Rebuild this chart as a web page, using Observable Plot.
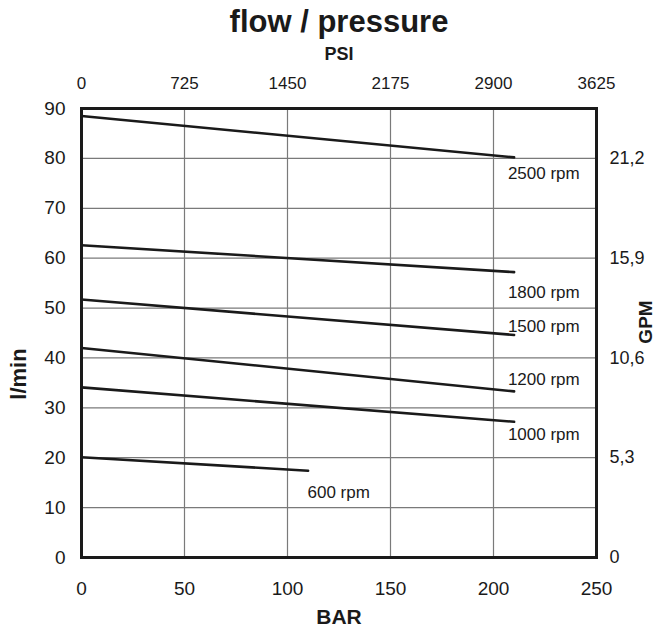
<!DOCTYPE html>
<html>
<head>
<meta charset="utf-8">
<script src="https://cdn.jsdelivr.net/npm/d3@7"></script>
<script src="https://cdn.jsdelivr.net/npm/@observablehq/plot@0.6"></script>
<style>
  html, body { margin: 0; padding: 0; background: #fff; }
  svg { font-family: "Liberation Sans", Arial, Helvetica, sans-serif; }
</style>
</head>
<body>
<div id="chart"></div>
<script>
// ---- data ----
const series = ["2500 rpm", "1800 rpm", "1500 rpm", "1200 rpm", "1000 rpm", "600 rpm"];
const barStart = [0, 0, 0, 0, 0, 0];
const barEnd = [210, 210, 210, 210, 210, 110];
const flowStart = [88.5, 62.6, 51.7, 42.0, 34.1, 20.1];
const flowEnd = [80.2, 57.2, 44.6, 33.3, 27.2, 17.4];
// label anchor positions (data units)
const labelBar = [207, 207, 207, 207, 207, 109.7];
const labelFlow = [76.9, 53.1, 46.3, 35.6, 24.7, 13.1];

const barTicks = [0, 50, 100, 150, 200, 250];
const psiLabels = ["0", "725", "1450", "2175", "2900", "3625"];
const flowTicks = [0, 10, 20, 30, 40, 50, 60, 70, 80, 90];
const gpmTicks = [0, 20, 40, 60, 80];
const gpmLabels = ["0", "5,3", "10,6", "15,9", "21,2"];

const titleText = "flow / pressure";
const topLabel = "PSI";
const xLabel = "BAR";
const yLabel = "l/min";
const y2Label = "GPM";

// ---- build tables ----
const points = [];
series.forEach((s, i) => {
  points.push({series: s, bar: barStart[i], flow: flowStart[i]});
  points.push({series: s, bar: barEnd[i], flow: flowEnd[i]});
});
const labels = series.map((s, i) => ({text: s, bar: labelBar[i], flow: labelFlow[i]}));

const ink = "#1a1a1a";
const gridColor = "#7a7a7a";

const chart = Plot.plot({
  width: 656,
  height: 630,
  marginLeft: 81,
  marginRight: 60,
  marginTop: 108,
  marginBottom: 73,
  style: {fontFamily: '"Liberation Sans", Arial, Helvetica, sans-serif', color: ink, background: "#fff"},
  x: {domain: [0, 250]},
  y: {domain: [0, 90]},
  marks: [
    Plot.gridX(barTicks, {stroke: gridColor, strokeOpacity: 1, strokeWidth: 1.2}),
    Plot.gridY(flowTicks, {stroke: gridColor, strokeOpacity: 1, strokeWidth: 1.2}),
    Plot.axisX(barTicks, {anchor: "bottom", tickSize: 0, tickPadding: 24, fontSize: 19, label: null, fill: ink}),
    Plot.axisX(barTicks, {anchor: "top", tickSize: 0, tickPadding: 20, fontSize: 17, label: null, fill: ink,
      tickFormat: (d) => psiLabels[barTicks.indexOf(d)]}),
    Plot.axisY(flowTicks, {anchor: "left", tickSize: 0, tickPadding: 16, fontSize: 19, label: null, fill: ink}),
    Plot.axisY(gpmTicks, {anchor: "right", tickSize: 0, tickPadding: 13, fontSize: 18, label: null, fill: ink,
      tickFormat: (d) => gpmLabels[gpmTicks.indexOf(d)]}),
    Plot.line(points, {x: "bar", y: "flow", z: "series", stroke: ink, strokeWidth: 2.6}),
    Plot.frame({stroke: ink, strokeWidth: 3}),
    Plot.text(labels, {x: "bar", y: "flow", text: "text", textAnchor: "start", fontSize: 17, fill: ink}),
    Plot.text([titleText], {frameAnchor: "top", dy: -77, lineAnchor: "bottom", fontSize: 31, fontWeight: "bold", fill: ink}),
    Plot.text([topLabel], {frameAnchor: "top", dy: -49, lineAnchor: "bottom", fontSize: 18, fontWeight: "bold", fill: ink}),
    Plot.text([xLabel], {frameAnchor: "bottom", dy: 66, lineAnchor: "bottom", fontSize: 21, fontWeight: "bold", fill: ink}),
    Plot.text([yLabel], {frameAnchor: "left", dx: -63, dy: 41, rotate: -90, textAnchor: "middle", lineAnchor: "middle",
      fontSize: 22, fontWeight: "bold", fill: ink}),
    Plot.text([y2Label], {frameAnchor: "right", dx: 49, dy: -11, rotate: -90, textAnchor: "middle", lineAnchor: "middle",
      fontSize: 19, fontWeight: "bold", fill: ink})
  ]
});
document.getElementById("chart").appendChild(chart);
</script>
</body>
</html>
